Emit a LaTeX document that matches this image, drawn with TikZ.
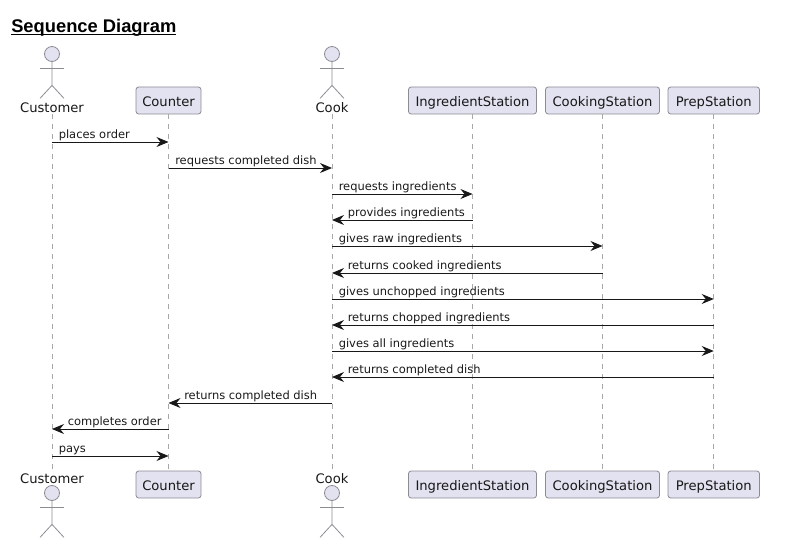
\documentclass[tikz,border=0pt]{standalone}
\usepackage{fontspec}
\usetikzlibrary{arrows.meta}
\setmainfont{DejaVu Sans}
\newfontfamily\titlefont{Liberation Sans}
\definecolor{partfill}{HTML}{E2E2F0}
\definecolor{partline}{HTML}{8C8C94}
\definecolor{lifegray}{HTML}{A8A8A8}
\definecolor{msgblack}{HTML}{181818}
\newcommand{\actorman}[2]{
    \node[actorhead] (#1) at #2 {};
    \draw[actorline] (#1.south) -- ++(0,23.5) coordinate (#1hip) -- +(-12,13);
    \draw[actorline] (#1hip) -- +(12,13);
    \draw[actorline] ([yshift=-6.5*0.75pt]#1.south) ++(-12,0) -- +(24,0);
}
\newcommand{\sendmsg}[5]{
    \coordinate (#1a) at (#2 |- 0,#4);
    \coordinate (#1b) at (#3 |- 0,#4);
    \draw[msgline] (#1a) -- (#1b);
    \node[msgtext] (#1t) at ([shift={(6.5,-3.5)}]#1a) {#5};
}
\newcommand{\backmsg}[5]{
    \coordinate (#1a) at (#2 |- 0,#4);
    \coordinate (#1b) at (#3 |- 0,#4);
    \draw[msgline] (#1a) -- (#1b);
    \node[msgtext] (#1t) at ([shift={(15.5,-3.5)}]#1b) {#5};
}

\begin{document}
\begin{tikzpicture}[x=0.75pt,y=-0.75pt]
    \tikzstyle{partbox}=[draw=partline,fill=partfill,rounded corners=2pt,line width=0.6pt,minimum height=27*0.75pt,inner xsep=0pt,inner ysep=0pt,text height=9pt,text depth=0.2pt,font=\fontsize{9.85pt}{12pt}\selectfont,text=msgblack]
    \tikzstyle{actorname}=[minimum height=14*0.75pt,inner sep=0pt,text height=9pt,text depth=0.2pt,font=\fontsize{9.85pt}{12pt}\selectfont,text=msgblack]
    \tikzstyle{actorhead}=[circle,draw=partline,fill=partfill,line width=0.6pt,minimum size=15*0.75pt,inner sep=0pt]
    \tikzstyle{actorline}=[draw=partline,line width=0.6pt]
    \tikzstyle{lifeline}=[draw=lifegray,line width=0.6pt,dash pattern=on 3.75pt off 3.75pt]
    \tikzstyle{msgline}=[draw=msgblack,line width=0.7pt,-{Stealth[length=9pt,width=7.5pt,inset=3pt]}]
    \tikzstyle{msgtext}=[anchor=base west,inner sep=0pt,font=\fontsize{8.6pt}{11pt}\selectfont,text=msgblack]

    \useasboundingbox (0,0) rectangle (786,560);
    \node[anchor=base west,inner sep=0pt,font=\titlefont\bfseries\fontsize{13.75pt}{16pt}\selectfont] (title) at (11,33) {\vtop{\hbox{Sequence Diagram}\kern-2.25pt\hrule height 1.1pt}};

    % participants, top row
    \node[actorname] (customertop) at (52,107) {Customer};
    \node[partbox,minimum width=65*0.75pt] (countertop) at (168.5,100.5) {Counter};
    \node[actorname] (cooktop) at (332,107) {Cook};
    \node[partbox,minimum width=128*0.75pt] (ingredienttop) at (472.5,100.5) {IngredientStation};
    \node[partbox,minimum width=114*0.75pt] (cookingtop) at (602.5,100.5) {CookingStation};
    \node[partbox,minimum width=91.5*0.75pt] (preptop) at (713.75,100.5) {PrepStation};

    % participants, bottom row
    \node[actorname] (customerbot) at (52,478) {Customer};
    \node[partbox,minimum width=65*0.75pt] (counterbot) at (168.5,484.5) {Counter};
    \node[actorname] (cookbot) at (332,478) {Cook};
    \node[partbox,minimum width=128*0.75pt] (ingredientbot) at (472.5,484.5) {IngredientStation};
    \node[partbox,minimum width=114*0.75pt] (cookingbot) at (602.5,484.5) {CookingStation};
    \node[partbox,minimum width=91.5*0.75pt] (prepbot) at (713.75,484.5) {PrepStation};

    % stick men
    \actorman{customerman}{(52,54)}
    \actorman{cookman}{(332,54)}
    \actorman{customerlow}{(52,493)}
    \actorman{cooklow}{(332,493)}

    % lifelines
    \draw[lifeline] (customertop) -- (customerbot);
    \draw[lifeline] (countertop) -- (counterbot);
    \draw[lifeline] (cooktop) -- (cookbot);
    \draw[lifeline] (ingredienttop) -- (ingredientbot);
    \draw[lifeline] (cookingtop) -- (cookingbot);
    \draw[lifeline] (preptop) -- (prepbot);

    % messages
    \sendmsg{order}{customertop}{countertop}{142}{places order}
    \sendmsg{dish}{countertop}{cooktop}{168}{requests completed dish}
    \sendmsg{reqing}{cooktop}{ingredienttop}{194}{requests ingredients}
    \backmsg{proving}{ingredienttop}{cooktop}{220}{provides ingredients}
    \sendmsg{raw}{cooktop}{cookingtop}{246}{gives raw ingredients}
    \backmsg{cooked}{cookingtop}{cooktop}{273}{returns cooked ingredients}
    \sendmsg{unchop}{cooktop}{preptop}{299}{gives unchopped ingredients}
    \backmsg{chopped}{preptop}{cooktop}{325}{returns chopped ingredients}
    \sendmsg{allin}{cooktop}{preptop}{351}{gives all ingredients}
    \backmsg{retdish}{preptop}{cooktop}{377}{returns completed dish}
    \backmsg{retcook}{cooktop}{countertop}{403}{returns completed dish}
    \backmsg{complete}{countertop}{customertop}{429}{completes order}
    \sendmsg{pays}{customertop}{countertop}{456}{pays}
\end{tikzpicture}
\end{document}
